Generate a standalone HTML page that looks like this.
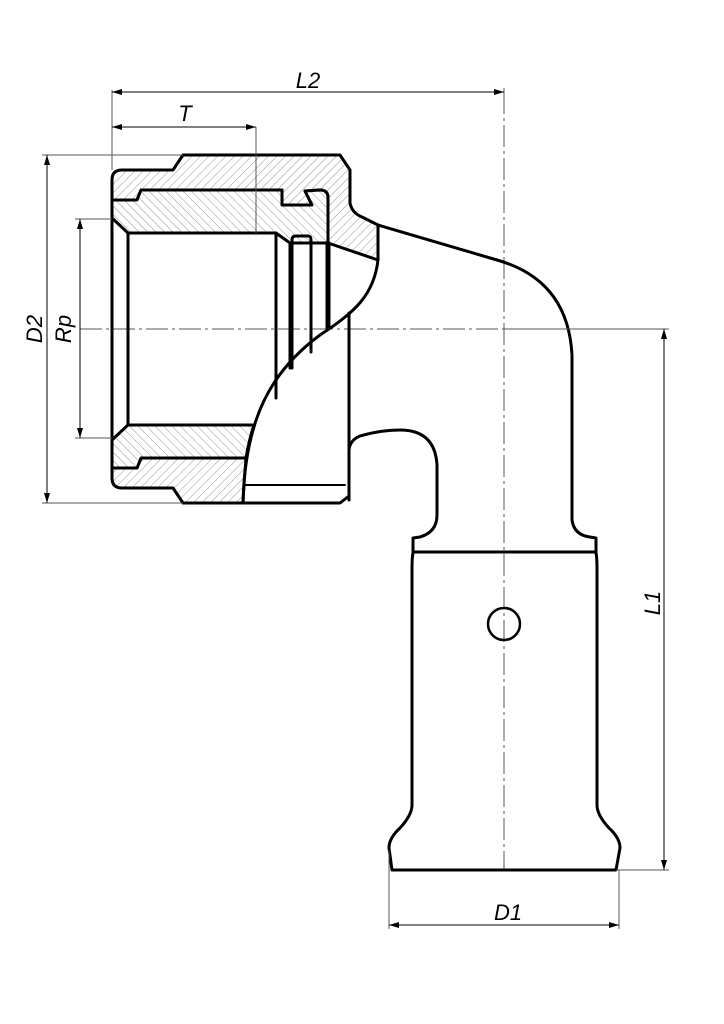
<!DOCTYPE html>
<html><head><meta charset="utf-8"><style>
html,body{margin:0;padding:0;background:#fff;}
svg{display:block;}
text{font-family:"Liberation Sans",sans-serif;font-style:italic;font-size:22px;fill:#000;}
</style></head><body>
<svg width="724" height="1024" viewBox="0 0 724 1024" xmlns="http://www.w3.org/2000/svg">
<defs>
<pattern id="hA" patternUnits="userSpaceOnUse" width="6" height="6" patternTransform="rotate(45)">
<rect width="6" height="6" fill="#fff"/><line x1="0" y1="0" x2="0" y2="6" stroke="#777" stroke-width="0.8"/></pattern>
<pattern id="hB" patternUnits="userSpaceOnUse" width="6" height="6" patternTransform="rotate(-45)">
<rect width="6" height="6" fill="#fff"/><line x1="0" y1="0" x2="0" y2="6" stroke="#777" stroke-width="0.8"/></pattern>
<marker id="ar" viewBox="0 0 10 6" refX="10" refY="3" markerWidth="10" markerHeight="6" orient="auto-start-reverse" markerUnits="userSpaceOnUse">
<path d="M0,0 L10,3 L0,6 z" fill="#000"/></marker>
</defs>

<g stroke="#555" stroke-width="1" stroke-dasharray="22,4,3,4" fill="none">
<line x1="80" y1="329" x2="665" y2="329"/>
<line x1="504" y1="92" x2="504" y2="870"/>
</g>

<path d="M112,180 Q112,170 122,170 L173,170 L183,155 L340,155 L350,170 L350,203 Q352,213 362,217 L378,225 L378,260 L328,243 L328,198 Q328,190 320,190 L305,191 L312,205 L282,205 L282,190 L141,190 L137,200 L112,200 Z" fill="url(#hA)" stroke="#000" stroke-width="3" stroke-linejoin="round"/>
<path d="M112,200 L137,200 L141,190 L282,190 L282,205 L312,205 L305,191 L320,190 Q328,190 328,198 L328,243 L290,243 L276,233 L128,233 L112,218 Z" fill="url(#hB)" stroke="#000" stroke-width="3" stroke-linejoin="round"/>

<path d="M112,478 Q112,488 122,488 L173,488 L183,503 L243,503 Q244,480 246,458 L141,458 L137,468 L112,468 Z" fill="url(#hA)" stroke="#000" stroke-width="3" stroke-linejoin="round"/>
<path d="M112,468 L137,468 L141,458 L246,458 Q249,440 254,425 L128,425 L112,440 Z" fill="url(#hB)" stroke="#000" stroke-width="3" stroke-linejoin="round"/>

<g fill="none" stroke="#000" stroke-width="3" stroke-linejoin="round" stroke-linecap="round">
<line x1="112" y1="180" x2="112" y2="478"/>
<line x1="128" y1="233" x2="128" y2="425"/>
<line x1="276" y1="233" x2="276" y2="398"/>
<path d="M290,243 L290,368"/>
<path d="M292,368 L292,240 Q292,236 296,236 L308,236 Q311,236 311,240 L311,352"/>
<line x1="328" y1="243" x2="328" y2="328" stroke-width="5"/>
<path d="M378,260 C374,295 355,312 320,335 C270,372 245,420 243,503"/>
<line x1="349" y1="313" x2="349" y2="500"/>
<line x1="245" y1="485" x2="345" y2="485" stroke-width="2"/>
<path d="M243,503 L340,503 L349,496"/>
<path d="M378,225 L497,260 Q568,280 572,355 L572,520 Q574,535 590,537 L596,538 L596,552 L413,552 L413,538 L420,537 Q437,532 437,515 L437,465 Q435,430 400,430 Q380,430 360,436 Q350,440 349,450"/>
<path d="M413,553 Q412,557 412,570 L412,805 Q412,815 400,828 Q389,838 389,848 L392,870 L616,870 L620,848 Q620,838 609,828 Q597,815 597,805 L597,570 Q597,557 596,553"/>
<circle cx="504" cy="624" r="16" stroke-width="2.5"/>
</g>

<g stroke="#555" stroke-width="1" fill="none">
<line x1="112" y1="90" x2="112" y2="170"/>
<line x1="504" y1="88" x2="504" y2="94"/>
<line x1="256" y1="127" x2="256" y2="233"/>
<line x1="42" y1="155" x2="183" y2="155"/>
<line x1="42" y1="503" x2="183" y2="503"/>
<line x1="75" y1="219" x2="112" y2="219"/>
<line x1="75" y1="438" x2="112" y2="438"/>
<line x1="616" y1="870" x2="669" y2="870"/>
<line x1="504" y1="329" x2="669" y2="329"/>
<line x1="389" y1="850" x2="389" y2="929"/>
<line x1="619" y1="870" x2="619" y2="929"/>
</g>
<g stroke="#000" stroke-width="1" fill="none">
<line x1="112" y1="92" x2="504" y2="92" marker-start="url(#ar)" marker-end="url(#ar)"/>
<line x1="112" y1="127" x2="256" y2="127" marker-start="url(#ar)" marker-end="url(#ar)"/>
<line x1="47" y1="155" x2="47" y2="503" marker-start="url(#ar)" marker-end="url(#ar)"/>
<line x1="80" y1="219" x2="80" y2="438" marker-start="url(#ar)" marker-end="url(#ar)"/>
<line x1="664" y1="329" x2="664" y2="870" marker-start="url(#ar)" marker-end="url(#ar)"/>
<line x1="389" y1="925" x2="619" y2="925" marker-start="url(#ar)" marker-end="url(#ar)"/>
</g>

<text x="308" y="88" text-anchor="middle">L2</text>
<text x="185" y="121" text-anchor="middle">T</text>
<text x="508" y="920" text-anchor="middle">D1</text>
<text transform="translate(42,329) rotate(-90)" text-anchor="middle">D2</text>
<text transform="translate(71,329) rotate(-90)" text-anchor="middle">Rp</text>
<text transform="translate(660,603) rotate(-90)" text-anchor="middle">L1</text>
</svg>
</body></html>
